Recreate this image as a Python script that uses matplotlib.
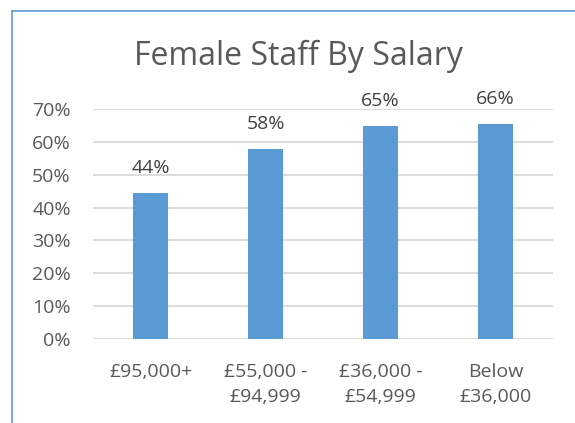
import matplotlib
matplotlib.use("Agg")
import matplotlib.pyplot as plt
from matplotlib.lines import Line2D

categories = ["£95,000+", "£55,000 -\n£94,999", "£36,000 -\n£54,999", "Below\n£36,000"]
values = [44.3, 57.7, 64.8, 65.5]
value_labels = ["44%", "58%", "65%", "66%"]
yticks = [0, 10, 20, 30, 40, 50, 60, 70]

plt.rcParams['font.family'] = ['Open Sans', 'DejaVu Sans']
txt = '#595959'

fig = plt.figure(figsize=(5.75, 4.23), dpi=100)
ax = fig.add_axes([93/575, 1 - 339/423, (553-93)/575, (339-109)/423])

x = list(range(len(categories)))
ax.bar(x, values, width=0.313, color='#5b9bd5', zorder=3)
ax.set_xlim(-0.5, 3.5)
ax.set_ylim(0, 70)
ax.set_yticks(yticks)
ax.set_yticklabels([f"{t}%" for t in yticks], fontsize=14, color=txt)
ax.set_xticks(x)
ax.set_xticklabels(categories, fontsize=14, color=txt, linespacing=1.55)
ax.tick_params(axis='both', length=0)
ax.tick_params(axis='y', pad=16)
ax.tick_params(axis='x', pad=17)
ax.grid(axis='y', color='#d9d9d9', linewidth=1.3, zorder=0)
for s in ax.spines.values():
    s.set_visible(False)

for xi, v, lab in zip(x, values, value_labels):
    ax.annotate(lab, (xi, v), xytext=(0, 18), textcoords='offset points',
                ha='center', va='center', fontsize=14, color='#404040')

fig.text(298/575, 1 - 56/423, "Female Staff By Salary", ha='center', va='center',
         fontsize=23, color=txt)

# chart border (left and top visible)
fig.add_artist(Line2D([12/575, 12/575], [0, 1 - 11/423], transform=fig.transFigure,
                      color='#5b9bd5', linewidth=1.2))
fig.add_artist(Line2D([12/575, 1], [1 - 11/423, 1 - 11/423], transform=fig.transFigure,
                      color='#5b9bd5', linewidth=1.2))

fig.savefig("out.png", dpi=100)
